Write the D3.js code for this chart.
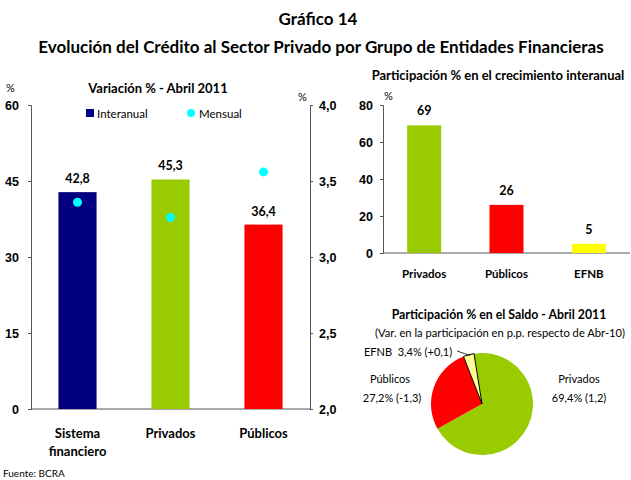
<!DOCTYPE html>
<html>
<head>
<meta charset="utf-8">
<script src="https://cdn.jsdelivr.net/npm/d3@7"></script>
<style>
  body { margin: 0; background: #fff; }
  svg { font-family: Lato, 'DejaVu Sans', sans-serif; }
  .axis path, .axis line { stroke: #555; }
  .axis text { font-size: 12.5px; font-weight: bold; fill: #000; }
</style>
</head>
<body>
<div id="grafico"><svg></svg></div>
<script>
const categories = ['Sistema financiero', 'Privados', 'Públicos'];
const interanual = [42.8, 45.3, 36.4];
const mensual = [3.36, 3.26, 3.56];
const barColors = ['#000080', '#99CC00', '#FF0000'];
const leftTicks = [0, 15, 30, 45, 60];
const rightTicks = [2.0, 2.5, 3.0, 3.5, 4.0];

const growthCategories = ['Privados', 'Públicos', 'EFNB'];
const growthValues = [69, 26, 5];
const growthColors = ['#99CC00', '#FF0000', '#FFFF00'];
const growthTicks = [0, 20, 40, 60, 80];

const stockCategories = ['Privados', 'Públicos', 'EFNB'];
const stockShares = [69.4, 27.2, 3.4];
const stockChanges = ['1,2', '-1,3', '+0,1'];
const stockColors = ['#99CC00', '#FF0000', '#FFFF99'];

(function() {
  const width = 631;
  const height = 480;
  const comma = d3.formatLocale({decimal: ',', thousands: '.', grouping: [3], currency: ['$', '']});
  const fmt1 = comma.format('.1f');

  const svg = d3.select(document.getElementById('grafico').getElementsByTagName('svg')[0])
    .attr('width', width)
    .attr('height', height);

  // main titles
  svg.append('text')
    .attr('x', 318).attr('y', 25)
    .attr('text-anchor', 'middle')
    .style('font-size', '17px').style('font-weight', 'bold')
    .text('Gráfico 14');
  svg.append('text')
    .attr('x', 321).attr('y', 53)
    .attr('text-anchor', 'middle')
    .style('font-size', '17px').style('font-weight', 'bold')
    .text('Evolución del Crédito al Sector Privado por Grupo de Entidades Financieras');

  // ---- left chart: variacion % ----
  const left = svg.append('g').attr('class', 'left-chart');
  const x = d3.scaleBand().domain(categories).range([31, 310]).paddingInner(0.59).paddingOuter(0.295);
  const y = d3.scaleLinear().domain([0, 60]).range([409, 105]);
  const y2 = d3.scaleLinear().domain([2, 4]).range([409, 105]);

  left.append('text')
    .attr('x', 158).attr('y', 93)
    .attr('text-anchor', 'middle')
    .style('font-size', '13px').style('font-weight', 'bold')
    .text('Variación % - Abril 2011');
  left.append('text').attr('x', 6).attr('y', 92).style('font-size', '11px').text('%');
  left.append('text').attr('x', 298).attr('y', 101).style('font-size', '11px').text('%');

  left.append('g').attr('class', 'axis')
    .attr('transform', 'translate(31,0)')
    .call(d3.axisLeft(y).tickValues(leftTicks).tickSize(3).tickPadding(9).tickFormat(d3.format('d')));
  left.append('g').attr('class', 'axis')
    .attr('transform', 'translate(310,0)')
    .call(d3.axisRight(y2).tickValues(rightTicks).tickSize(3).tickPadding(6).tickFormat(fmt1));
  left.append('line')
    .attr('x1', 31).attr('x2', 310).attr('y1', y(0)).attr('y2', y(0))
    .style('stroke', '#555');

  left.selectAll('rect.bar')
    .data(interanual)
    .enter().append('rect')
    .attr('class', 'bar')
    .attr('x', function(d, i) { return x(categories[i]); })
    .attr('y', function(d) { return y(d); })
    .attr('width', x.bandwidth())
    .attr('height', function(d) { return y(0) - y(d); })
    .attr('fill', function(d, i) { return barColors[i]; });

  left.selectAll('text.val')
    .data(interanual)
    .enter().append('text')
    .attr('class', 'val')
    .attr('x', function(d, i) { return x(categories[i]) + x.bandwidth() / 2; })
    .attr('y', function(d) { return y(d) - 9; })
    .attr('text-anchor', 'middle')
    .style('font-size', '12.5px').style('font-weight', 'bold')
    .text(function(d) { return fmt1(d); });

  left.selectAll('circle.mensual')
    .data(mensual)
    .enter().append('circle')
    .attr('class', 'mensual')
    .attr('cx', function(d, i) { return x(categories[i]) + x.bandwidth() / 2; })
    .attr('cy', function(d) { return y2(d); })
    .attr('r', 4.5)
    .attr('fill', '#00FFFF');

  const catLabels = left.selectAll('text.cat')
    .data(categories)
    .enter().append('text')
    .attr('class', 'cat')
    .attr('x', function(d) { return x(d) + x.bandwidth() / 2; })
    .attr('y', 438)
    .attr('text-anchor', 'middle')
    .style('font-size', '13px').style('font-weight', 'bold');
  catLabels.each(function(d) {
    const words = d.split(' ');
    const t = d3.select(this);
    words.forEach(function(w, k) {
      t.append('tspan').attr('x', t.attr('x')).attr('dy', k === 0 ? 0 : 18).text(w);
    });
  });

  // legend
  left.append('rect').attr('x', 86).attr('y', 109).attr('width', 8).attr('height', 8).attr('fill', barColors[0]);
  left.append('text').attr('x', 97).attr('y', 117.5).style('font-size', '11.5px').text('Interanual');
  left.append('circle').attr('cx', 191).attr('cy', 113).attr('r', 4).attr('fill', '#00FFFF');
  left.append('text').attr('x', 199).attr('y', 117.5).style('font-size', '11.5px').text('Mensual');

  // ---- right top chart: participacion en crecimiento ----
  const top = svg.append('g').attr('class', 'growth-chart');
  const gx = d3.scaleBand().domain(growthCategories).range([383, 630]).paddingInner(0.587).paddingOuter(0.2935);
  const gy = d3.scaleLinear().domain([0, 80]).range([253, 105]);

  top.append('text')
    .attr('x', 498).attr('y', 80)
    .attr('text-anchor', 'middle')
    .style('font-size', '13px').style('font-weight', 'bold')
    .text('Participación % en el crecimiento interanual');
  top.append('text').attr('x', 384).attr('y', 100).style('font-size', '11px').text('%');

  top.append('g').attr('class', 'axis')
    .attr('transform', 'translate(383,0)')
    .call(d3.axisLeft(gy).tickValues(growthTicks).tickSize(3).tickPadding(7).tickFormat(d3.format('d')));
  top.append('line')
    .attr('x1', 383).attr('x2', 630).attr('y1', gy(0)).attr('y2', gy(0))
    .style('stroke', '#555');

  top.selectAll('rect.bar')
    .data(growthValues)
    .enter().append('rect')
    .attr('class', 'bar')
    .attr('x', function(d, i) { return gx(growthCategories[i]); })
    .attr('y', function(d) { return gy(d); })
    .attr('width', gx.bandwidth())
    .attr('height', function(d) { return gy(0) - gy(d); })
    .attr('fill', function(d, i) { return growthColors[i]; });

  top.selectAll('text.val')
    .data(growthValues)
    .enter().append('text')
    .attr('class', 'val')
    .attr('x', function(d, i) { return gx(growthCategories[i]) + gx.bandwidth() / 2; })
    .attr('y', function(d) { return gy(d) - 10; })
    .attr('text-anchor', 'middle')
    .style('font-size', '12.5px').style('font-weight', 'bold')
    .text(function(d) { return d; });

  top.selectAll('text.cat')
    .data(growthCategories)
    .enter().append('text')
    .attr('class', 'cat')
    .attr('x', function(d) { return gx(d) + gx.bandwidth() / 2; })
    .attr('y', 278)
    .attr('text-anchor', 'middle')
    .style('font-size', '11.5px').style('font-weight', 'bold')
    .text(function(d) { return d; });

  // ---- pie: participacion en el saldo ----
  const pieG = svg.append('g').attr('class', 'pie-chart');
  pieG.append('text')
    .attr('x', 499).attr('y', 319)
    .attr('text-anchor', 'middle')
    .style('font-size', '12.3px').style('font-weight', 'bold')
    .text('Participación % en el Saldo - Abril 2011');
  pieG.append('text')
    .attr('x', 500).attr('y', 337)
    .attr('text-anchor', 'middle')
    .style('font-size', '11.2px')
    .text('(Var. en la participación en p.p. respecto de Abr-10)');

  const radius = 51;
  const start = -9 * Math.PI / 180;
  const pie = d3.pie().sort(null).startAngle(start).endAngle(start + 2 * Math.PI);
  const arc = d3.arc().innerRadius(0).outerRadius(radius);
  const slices = pieG.append('g').attr('transform', 'translate(482,404)');

  slices.selectAll('path')
    .data(pie(stockShares))
    .enter().append('path')
    .attr('d', arc)
    .attr('fill', function(d, i) { return stockColors[i]; })
    .style('stroke', function(d, i) { return i === 2 ? '#000' : 'none'; })
    .style('stroke-width', 1);

  const labelStyle = function(sel) { return sel.style('font-size', '11px').attr('text-anchor', 'middle'); };
  pieG.append('text').call(labelStyle).attr('x', 390).attr('y', 383).text(stockCategories[1]);
  pieG.append('text').call(labelStyle).attr('x', 392).attr('y', 402).text(fmt1(stockShares[1]) + '% (' + stockChanges[1] + ')');
  pieG.append('text').call(labelStyle).attr('x', 579).attr('y', 383).text(stockCategories[0]);
  pieG.append('text').call(labelStyle).attr('x', 579).attr('y', 402).text(fmt1(stockShares[0]) + '% (' + stockChanges[0] + ')');
  pieG.append('text').style('font-size', '11px')
    .attr('x', 364).attr('y', 355.5)
    .attr('xml:space', 'preserve')
    .text(stockCategories[2] + '  ' + fmt1(stockShares[2]) + '% (' + stockChanges[2] + ')');
  pieG.append('line')
    .attr('x1', 457).attr('y1', 351).attr('x2', 470).attr('y2', 355.5)
    .style('stroke', '#000').style('stroke-width', 0.8);

  svg.append('text')
    .attr('x', 3).attr('y', 477)
    .style('font-size', '10px')
    .text('Fuente: BCRA');
})();
</script>
</body>
</html>
